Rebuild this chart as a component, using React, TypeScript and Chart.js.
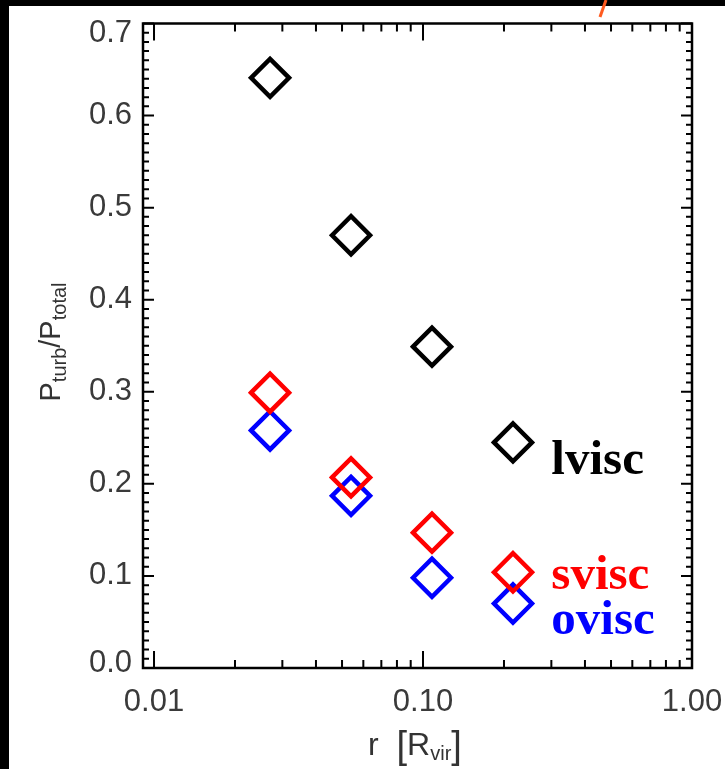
import React, { useEffect, useRef } from 'react';
import { Chart, registerables } from 'chart.js';

Chart.register(...registerables);

// ---- data ----
const rValues = [0.027, 0.054, 0.108, 0.216];
const lviscValues = [0.641, 0.47, 0.349, 0.245];
const sviscValues = [0.299, 0.207, 0.147, 0.104];
const oviscValues = [0.258, 0.187, 0.098, 0.07];

const seriesNames = ['lvisc', 'svisc', 'ovisc'];
const seriesColors = ['#000000', '#ff0000', '#0000ff'];

const xMin = 0.0091;
const xMax = 1.0;
const xTickValues = [0.01, 0.1, 1];
const xTickLabels = ['0.01', '0.10', '1.00'];
const yTickValues = [0, 0.1, 0.2, 0.3, 0.4, 0.5, 0.6, 0.7];
const yTickLabels = ['0.0', '0.1', '0.2', '0.3', '0.4', '0.5', '0.6', '0.7'];

// in-plot series labels (data coordinates of text baseline start)
const labelX = 0.3;
const labelY = [0.211, 0.086, 0.037];

const SANS = '"Liberation Sans", Arial, Helvetica, sans-serif';
const SERIF = '"Liberation Serif", "Times New Roman", serif';
const TICK_SIZE = 31;

type Seg = { t: string; size: number; dy: number };

function drawSegs(ctx: CanvasRenderingContext2D, segs: Seg[]) {
  const widths = segs.map((s) => {
    ctx.font = `${s.size}px ${SANS}`;
    return ctx.measureText(s.t).width;
  });
  const w = widths.reduce((a, b) => a + b, 0);
  let x = -w / 2;
  segs.forEach((s, i) => {
    ctx.font = `${s.size}px ${SANS}`;
    ctx.fillText(s.t, x, s.dy);
    x += widths[i];
  });
}

const framePlugin = {
  id: 'idlFrame',
  beforeDraw(chart: any) {
    const ctx: CanvasRenderingContext2D = chart.ctx;
    const W = chart.width;
    const H = chart.height;
    ctx.save();
    ctx.fillStyle = '#ffffff';
    ctx.fillRect(0, 0, W, H);
    ctx.fillStyle = '#000000';
    ctx.fillRect(0, 0, W, 6);
    ctx.fillRect(0, 0, 9, H);
    ctx.strokeStyle = '#ff5a1f';
    ctx.lineWidth = 3;
    ctx.beginPath();
    ctx.moveTo(606, 0);
    ctx.lineTo(600, 17);
    ctx.stroke();
    ctx.restore();
  },
  beforeDatasetsDraw(chart: any) {
    const ctx: CanvasRenderingContext2D = chart.ctx;
    const { left, right, top, bottom } = chart.chartArea;
    const xs = chart.scales.x;
    const ys = chart.scales.y;
    ctx.save();
    ctx.strokeStyle = '#000';
    ctx.lineWidth = 2;
    ctx.beginPath();
    for (let i = 0; i <= 70; i++) {
      const py = ys.getPixelForValue(i / 100);
      const len = i % 10 === 0 ? 11 : 6;
      ctx.moveTo(left, py);
      ctx.lineTo(left + len, py);
      ctx.moveTo(right, py);
      ctx.lineTo(right - len, py);
    }
    const decades = [0.01, 0.1];
    decades.forEach((d) => {
      for (let m = 1; m <= 9; m++) {
        const px = xs.getPixelForValue(m * d);
        const len = m === 1 ? 17 : 8;
        ctx.moveTo(px, bottom);
        ctx.lineTo(px, bottom - len);
        ctx.moveTo(px, top);
        ctx.lineTo(px, top + len);
      }
    });
    ctx.stroke();
    ctx.lineWidth = 2.5;
    ctx.strokeRect(left, top, right - left, bottom - top);
    ctx.restore();
  },
  afterDraw(chart: any) {
    const ctx: CanvasRenderingContext2D = chart.ctx;
    const xs = chart.scales.x;
    const ys = chart.scales.y;
    ctx.save();
    ctx.fillStyle = '#333';
    ctx.textBaseline = 'alphabetic';
    ctx.textAlign = 'left';

    // y-axis title P_turb / P_total
    ctx.save();
    ctx.translate(60, 342);
    ctx.rotate(-Math.PI / 2);
    drawSegs(ctx, [
      { t: 'P', size: 29, dy: 0 },
      { t: 'turb', size: 20, dy: 6 },
      { t: '/', size: 29, dy: 0 },
      { t: 'P', size: 29, dy: 0 },
      { t: 'total', size: 20, dy: 6 },
    ]);
    ctx.restore();

    // x-axis title r [R_vir]
    ctx.save();
    ctx.translate(415, 755);
    drawSegs(ctx, [
      { t: 'r  ', size: 32, dy: 0 },
      { t: '[', size: 38, dy: 3 },
      { t: 'R', size: 32, dy: 0 },
      { t: 'vir', size: 20, dy: 5 },
      { t: ']', size: 38, dy: 3 },
    ]);
    ctx.restore();

    // series labels
    ctx.font = `bold 49px ${SERIF}`;
    seriesNames.forEach((name, i) => {
      ctx.fillStyle = seriesColors[i];
      ctx.fillText(name, xs.getPixelForValue(labelX), ys.getPixelForValue(labelY[i]));
    });
    ctx.restore();
  },
};

export default function App() {
  const ref = useRef<HTMLCanvasElement | null>(null);

  useEffect(() => {
    if (!ref.current) return;
    const allValues = [lviscValues, sviscValues, oviscValues];
    const datasets = allValues.map((vals, i) => ({
      label: seriesNames[i],
      data: rValues.map((r, j) => ({ x: r, y: vals[j] })),
      pointStyle: 'rectRot' as const,
      pointRadius: 19,
      pointHoverRadius: 19,
      borderWidth: 4.5,
      pointBorderWidth: 4.5,
      borderColor: seriesColors[i],
      pointBorderColor: seriesColors[i],
      backgroundColor: 'rgba(0,0,0,0)',
      pointBackgroundColor: 'rgba(0,0,0,0)',
      showLine: false,
      clip: false as any,
    }));

    const zeroPad = (scale: any) => {
      scale.paddingLeft = 0;
      scale.paddingRight = 0;
      scale.paddingTop = 0;
      scale.paddingBottom = 0;
    };

    const lastY = yTickLabels.length - 1;

    const chart = new Chart(ref.current, {
      type: 'scatter',
      data: { datasets },
      options: {
        animation: false,
        responsive: false,
        devicePixelRatio: 1,
        layout: { padding: { left: 0, top: 23, right: 33, bottom: 0 } },
        plugins: {
          legend: { display: false },
          tooltip: { enabled: false },
        },
        events: [],
        scales: {
          x: {
            type: 'logarithmic',
            position: 'bottom',
            min: xMin,
            max: xMax,
            grid: { display: false, drawTicks: false },
            border: { display: false },
            afterBuildTicks: (scale: any) => {
              scale.ticks = xTickValues.map((v) => ({ value: v }));
            },
            afterFit: (scale: any) => {
              scale.height = 101;
              zeroPad(scale);
            },
            ticks: {
              autoSkip: false,
              maxRotation: 0,
              minRotation: 0,
              padding: 16,
              color: '#3a3a3a',
              font: { family: SANS, size: TICK_SIZE },
              callback: (_v: any, i: number) => xTickLabels[i],
            },
          },
          y: {
            type: 'linear',
            position: 'left',
            min: 0,
            max: 0.7,
            grid: { display: false, drawTicks: false },
            border: { display: false },
            afterBuildTicks: (scale: any) => {
              scale.ticks = yTickValues.map((v) => ({ value: v }));
            },
            afterFit: (scale: any) => {
              scale.width = 143;
              zeroPad(scale);
            },
            ticks: {
              autoSkip: false,
              padding: 11,
              color: '#3a3a3a',
              // end labels are kept inside the frame: top one lowered, bottom one raised
              font: (c: any) => {
                if (c.index === lastY) return { family: SANS, size: TICK_SIZE, lineHeight: 20 / TICK_SIZE };
                if (c.index === 0) return { family: SANS, size: TICK_SIZE, lineHeight: 10 / TICK_SIZE };
                return { family: SANS, size: TICK_SIZE };
              },
              callback: (_v: any, i: number) => {
                if (i === lastY) return ['', yTickLabels[i]];
                if (i === 0) return [yTickLabels[i], ''];
                return yTickLabels[i];
              },
            },
          },
        },
      },
      plugins: [framePlugin],
    });
    return () => chart.destroy();
  }, []);

  return (
    <div style={{ position: 'fixed', left: 0, top: 0, width: 725, height: 769, background: '#fff' }}>
      <canvas ref={ref} width={725} height={769} style={{ display: 'block', width: 725, height: 769 }} />
    </div>
  );
}
